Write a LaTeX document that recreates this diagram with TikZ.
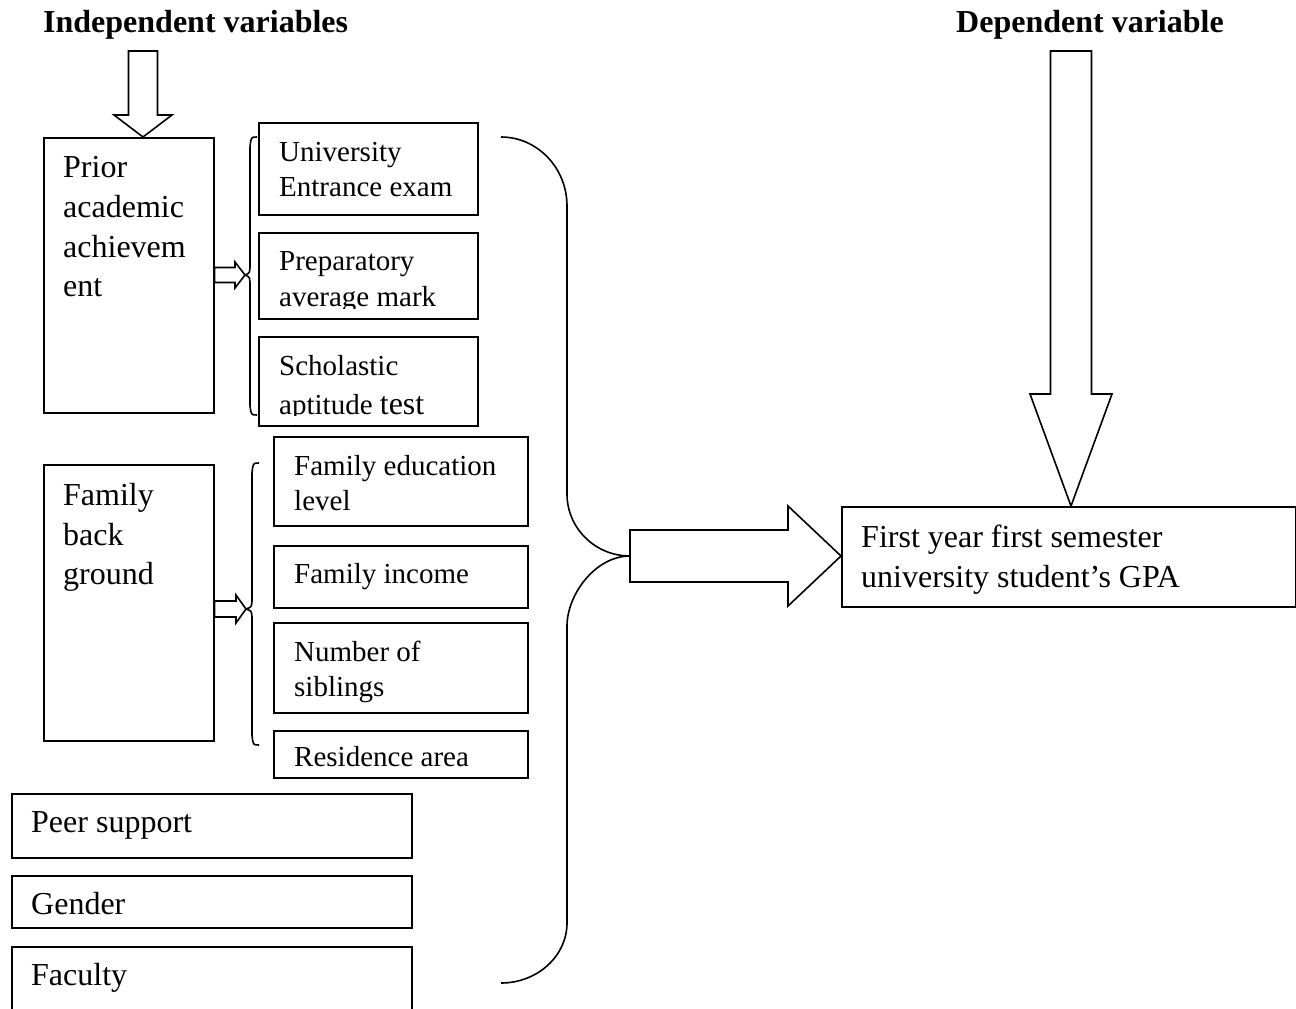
\documentclass[tikz,border=0pt]{standalone}
\usepackage{fontspec}
\setmainfont{Liberation Serif}
\usetikzlibrary{calc}
\tikzset{
  box/.style={draw, line width=1.6pt, inner sep=0pt, anchor=north west},
  big/.style={font=\fontsize{32}{40}\selectfont, inner sep=0pt, anchor=base west},
  small/.style={font=\fontsize{29}{36}\selectfont, inner sep=0pt, anchor=base west},
  ttl/.style={font=\fontsize{32}{40}\selectfont\bfseries, inner sep=0pt, anchor=base west},
  blk/.style={draw, line width=1.6pt, fill=white, line join=miter},
  brc/.style={draw, line width=1.6pt},
}
\newcommand\boxat[5]{\node[box, minimum width={#4-#2}, minimum height={#5-#3}] (#1) at (#2,#3) {};}
\newcommand\blockR[5]{\path[blk] let \p1=(#1), \p2=(#2) in
  (\x1,{\y1+#3}) -- ({\x2-#5},{\y1+#3}) -- ({\x2-#5},{\y1+#4}) -- (\x2,\y1)
  -- ({\x2-#5},{\y1-#4}) -- ({\x2-#5},{\y1-#3}) -- (\x1,{\y1-#3}) -- cycle;}
\newcommand\blockD[5]{\path[blk] let \p1=(#1), \p2=(#2) in
  ({\x1-#3},\y1) -- ({\x1-#3},{\y2+#5}) -- ({\x1-#4},{\y2+#5}) -- (\x1,\y2)
  -- ({\x1+#4},{\y2+#5}) -- ({\x1+#3},{\y2+#5}) -- ({\x1+#3},\y1) -- cycle;}
\begin{document}
\begin{tikzpicture}[x=1pt,y=-1pt]
\useasboundingbox (0,0) rectangle (1296,1009);
\clip (0,0) rectangle (1296,1009);

% titles
\node[ttl] (tindep) at (43,32) {Independent variables};
\node[ttl] (tdep) at (956,32) {Dependent variable};

% main left boxes
\boxat{prior}{43}{137}{213}{412}
\node[big] (prior1) at (63,177) {Prior};
\node[big] (prior2) at (63,217) {academic};
\node[big] (prior3) at (63,257) {achievem};
\node[big] (prior4) at (63,296) {ent};

\boxat{fam}{43}{464}{213}{740}
\node[big] (fam1) at (63,505) {Family};
\node[big] (fam2) at (63,545) {back};
\node[big] (fam3) at (63,584) {ground};

% prior academic sub-boxes
\boxat{uni}{258}{122}{477}{214}
\node[small] (uni1) at (279,161) {University};
\node[small] (uni2) at (279,196) {Entrance exam};

\boxat{prep}{258}{232}{477}{318}
\begin{scope}
\clip (258,232) rectangle (477,308);
\node[small] (prep1) at (279,270) {Preparatory};
\node[small] (prep2) at (279,306) {average mark};
\end{scope}

\boxat{sch}{258}{336}{477}{425}
\begin{scope}
\clip (258,336) rectangle (477,415);
\node[small] (sch1) at (279,375) {Scholastic};
\node[small] (sch2) at (279,414) {aptitude {\fontsize{32}{36}\selectfont test}};
\end{scope}

% family sub-boxes
\boxat{fedu}{273}{436}{527}{525}
\node[small] (fedu1) at (294,475) {Family education};
\node[small] (fedu2) at (294,510) {level};

\boxat{finc}{273}{545}{527}{607}
\node[small] (finc1) at (294,583) {Family income};

\boxat{sib}{273}{622}{527}{712}
\node[small] (sib1) at (294,661) {Number of};
\node[small] (sib2) at (294,696) {siblings};

\boxat{res}{273}{730}{527}{777}
\node[small] (res1) at (294,766) {Residence area};

% other variables
\boxat{peer}{11}{793}{411}{857}
\node[big] (peer1) at (31,832) {Peer support};
\boxat{gen}{11}{875}{411}{927}
\node[big] (gen1) at (31,914) {Gender};
\boxat{fac}{11}{946}{411}{1040}
\node[big] (fac1) at (31,985) {Faculty};

% dependent
\boxat{gpa}{841}{506}{1295}{606}
\node[big] (gpa1) at (861,547) {First year first semester};
\node[big] (gpa2) at (861,587) {university student’s GPA};

% braces
\coordinate (b1tip) at (245,275);
\draw[brc] (257,137) .. controls (251,137) .. (250,147) -- (250,263)
  .. controls (250,273) .. (b1tip) .. controls (250,277) .. (250,287)
  -- (250,405) .. controls (251,415) .. (257,415);

\coordinate (b2tip) at (246,609);
\draw[brc] (259,463) .. controls (253,463) .. (252,473) -- (252,597)
  .. controls (252,607) .. (b2tip) .. controls (252,611) .. (252,621)
  -- (252,735) .. controls (253,745) .. (259,745);

\coordinate (b3tip) at (630,556);
\draw[brc] (501,137) .. controls (537.4,137) and (567,168) .. (567,206) -- (567,494)
  .. controls (567,528) and (595,556) .. (b3tip)
  .. controls (595,556) and (567,595) .. (567,626) -- (567,923)
  .. controls (567,956) and (537.4,983) .. (501,983);

% small arrows
\coordinate (a1s) at (prior.east |- b1tip);
\blockR{a1s}{b1tip}{7.5pt}{13pt}{10pt}
\coordinate (a2s) at (fam.east |- b2tip);
\blockR{a2s}{b2tip}{8pt}{14pt}{10pt}

% big arrow to GPA
\blockR{b3tip}{gpa.west}{26pt}{50pt}{53pt}

% top arrows
\coordinate (ia) at (143,51);
\coordinate (iat) at (ia |- prior.north);
\blockD{ia}{iat}{14.5pt}{29pt}{22pt}
\coordinate (da) at (1071,51);
\coordinate (dat) at (da |- gpa.north);
\blockD{da}{dat}{20.5pt}{41pt}{112pt}
\end{tikzpicture}
\end{document}
